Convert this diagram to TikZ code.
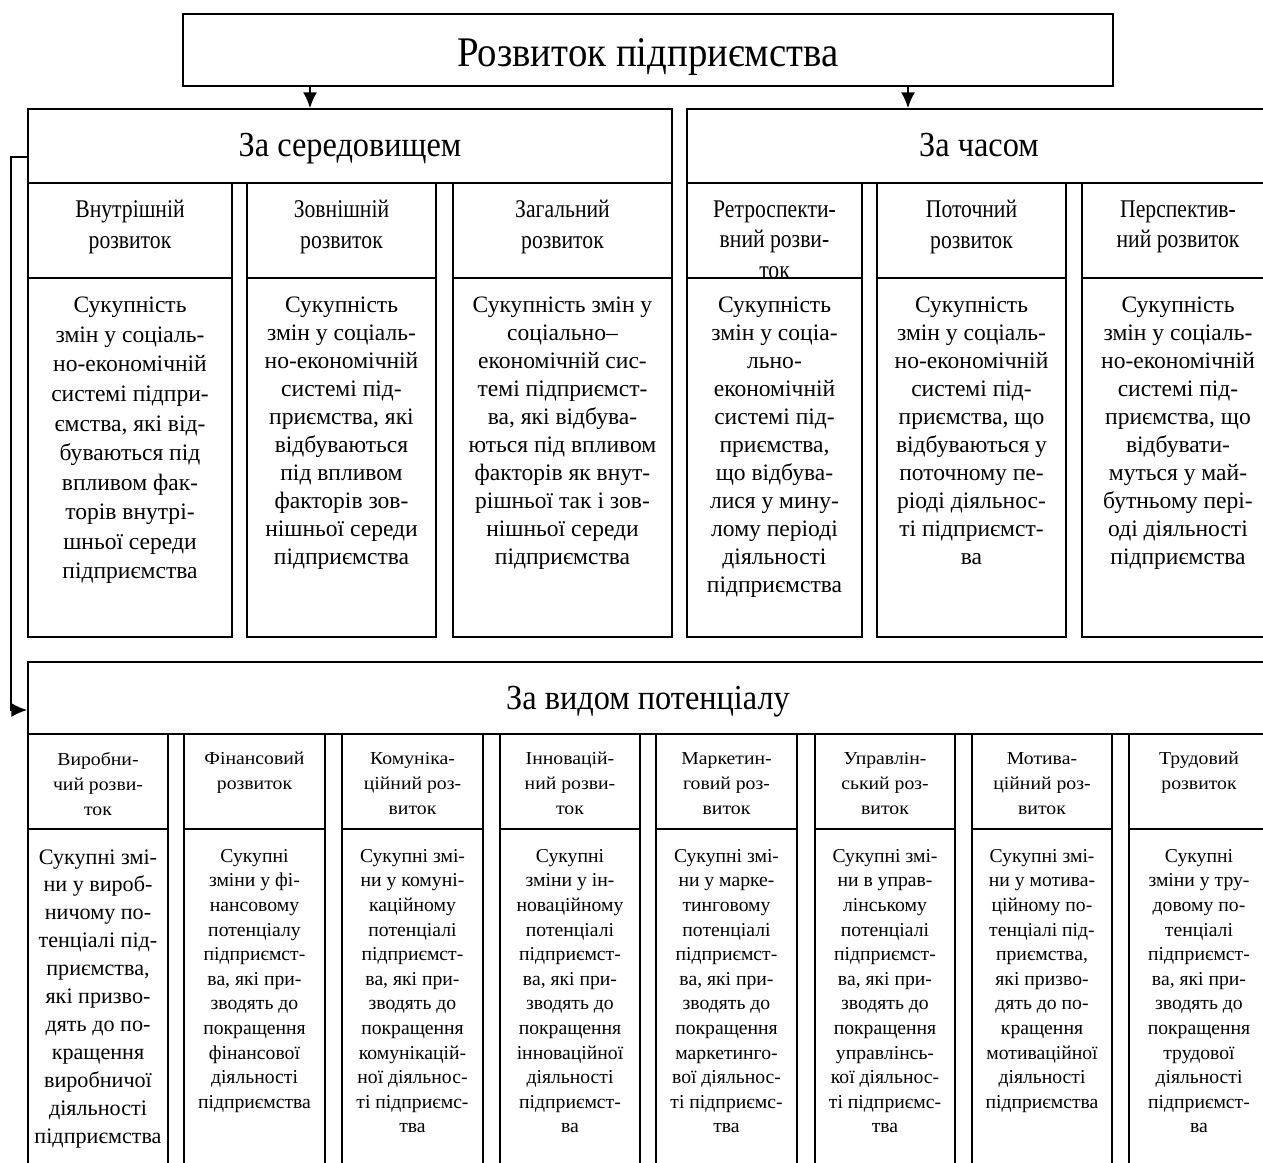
\documentclass[tikz,border=0pt]{standalone}
\usepackage{fontspec}
\setmainfont{Liberation Serif}
\newfontfamily\condfont{Liberation Serif}[FakeStretch=0.92]
\newfontfamily\narrowfont{Liberation Serif}[FakeStretch=0.85]
\newfontfamily\widefont{Liberation Serif}[FakeStretch=1.08]
\usetikzlibrary{arrows.meta,fit}
\tikzset{
	box/.style={draw, line width=1pt, fill=white, inner sep=0pt},
	ttl/.style={anchor=base, inner sep=0pt, font=\condfont\fontsize{24}{28}\selectfont},
	grp/.style={anchor=base, inner sep=0pt, font=\condfont\fontsize{20}{24}\selectfont},
	sub/.style={anchor=north, align=center, inner sep=0pt, font=\narrowfont\fontsize{14.5}{17.5}\selectfont},
	txt/.style={anchor=north, align=center, inner sep=0pt, font=\fontsize{13.4}{15.9}\selectfont},
	subs/.style={anchor=north, align=center, inner sep=0pt, font=\widefont\fontsize{10.4}{14.2}\selectfont},
	txts/.style={anchor=north, align=center, inner sep=0pt, font=\fontsize{11.2}{14}\selectfont},
	arr/.style={line width=1pt, -{Latex[length=9pt,width=8pt]}}
}

\begin{document}
\begin{tikzpicture}[x=0.02cm, y=-0.02cm]
		%%%%% START %%%%%
		\useasboundingbox (0,0) rectangle (1263,1162);
		
		\node[box, fit={(183,14) (1113,86)}] (rozv) {};
		\node[ttl] (rozvT) at (648,67) {Розвиток підприємства};
		
		\node[box, fit={(28,109) (672,183)}] (sered) {};
		\node[grp] (seredT) at (350,157) {За середовищем};
		\node[box, fit={(687,109) (1274,183)}] (chas) {};
		\node[grp] (chasT) at (979,157) {За часом};
		
		\coordinate (pL) at (310,0);
		\coordinate (pR) at (908,0);
		\draw[arr] (rozv.south -| pL) -- (sered.north -| pL);
		\draw[arr] (rozv.south -| pR) -- (chas.north -| pR);
		
		% za seredovyshchem
		\node[box, fit={(28,183) (232,278)}] (vnH) {};
		\node[sub] (vnHt) at (130,200) {Внутрішній\\розвиток};
		\node[box, fit={(28,278) (232,637)}] (vnB) {};
		\node[txt, font=\fontsize{13.4}{16.8}\selectfont] (vnBt) at (130,297) {Сукупність\\змін у соціаль-\\но-економічній\\системі підпри-\\ємства, які від-\\буваються під\\впливом фак-\\торів внутрі-\\шньої середи\\підприємства};
		
		\node[box, fit={(247,183) (436,278)}] (zvH) {};
		\node[sub] (zvHt) at (341.5,200) {Зовнішній\\розвиток};
		\node[box, fit={(247,278) (436,637)}] (zvB) {};
		\node[txt] (zvBt) at (341.5,297) {Сукупність\\змін у соціаль-\\но-економічній\\системі під-\\приємства, які\\відбуваються\\під впливом\\факторів зов-\\нішньої середи\\підприємства};
		
		\node[box, fit={(453,183) (672,278)}] (zgH) {};
		\node[sub] (zgHt) at (562.5,200) {Загальний\\розвиток};
		\node[box, fit={(453,278) (672,637)}] (zgB) {};
		\node[txt] (zgBt) at (562.5,297) {Сукупність змін у\\соціально–\\економічній сис-\\темі підприємст-\\ва, які відбува-\\ються під впливом\\факторів як внут-\\рішньої так і зов-\\нішньої середи\\підприємства};
		
		% za chasom
		\node[box, fit={(687,183) (862,278)}] (rtH) {};
		\node[sub] (rtHt) at (774.5,200) {Ретроспекти-\\вний розви-\\ток};
		\node[box, fit={(687,278) (862,637)}] (rtB) {};
		\node[txt] (rtBt) at (774.5,297) {Сукупність\\змін у соціа-\\льно-\\економічній\\системі під-\\приємства,\\що відбува-\\лися у мину-\\лому періоді\\діяльності\\підприємства};
		
		\node[box, fit={(877,183) (1066,278)}] (ptH) {};
		\node[sub] (ptHt) at (971.5,200) {Поточний\\розвиток};
		\node[box, fit={(877,278) (1066,637)}] (ptB) {};
		\node[txt] (ptBt) at (971.5,297) {Сукупність\\змін у соціаль-\\но-економічній\\системі під-\\приємства, що\\відбуваються у\\поточному пе-\\ріоді діяльнос-\\ті підприємст-\\ва};
		
		\node[box, fit={(1082,183) (1274,278)}] (psH) {};
		\node[sub] (psHt) at (1178,200) {Перспектив-\\ний розвиток};
		\node[box, fit={(1082,278) (1274,637)}] (psB) {};
		\node[txt] (psBt) at (1178,297) {Сукупність\\змін у соціаль-\\но-економічній\\системі під-\\приємства, що\\відбувати-\\муться у май-\\бутньому пері-\\оді діяльності\\підприємства};
		
		% za vydom potentsialu
		\node[box, fit={(28,662) (1268,734)}] (potenc) {};
		\node[grp] (potencT) at (648,709) {За видом потенціалу};
		
		\coordinate (kT) at (11,157);
		\coordinate (kB) at (11,710);
		\draw[arr] (kT -| sered.west) -- (kT) -- (kB) -- (kB -| potenc.west);
		
		\node[box, fit={(28,734) (168,829)}] (vyrH) {};
		\node[subs] (vyrHt) at (98,752) {Виробни-\\чий розви-\\ток};
		\node[box, fit={(28,829) (168,1170)}] (vyrB) {};
		\node[txt, font=\fontsize{12.6}{15.9}\selectfont] (vyrBt) at (98,849) {Сукупні змі-\\ни у вироб-\\ничому по-\\тенціалі під-\\приємства,\\які призво-\\дять до по-\\кращення\\виробничої\\діяльності\\підприємства};
		
		\node[box, fit={(184,734) (325,829)}] (finH) {};
		\node[subs] (finHt) at (254.5,752) {Фінансовий\\розвиток};
		\node[box, fit={(184,829) (325,1170)}] (finB) {};
		\node[txts] (finBt) at (254.5,849) {Сукупні\\зміни у фі-\\нансовому\\потенціалу\\підприємст-\\ва, які при-\\зводять до\\покращення\\фінансової\\діяльності\\підприємства};
		
		\node[box, fit={(342,734) (483,829)}] (komH) {};
		\node[subs] (komHt) at (412.5,752) {Комуніка-\\ційний роз-\\виток};
		\node[box, fit={(342,829) (483,1170)}] (komB) {};
		\node[txts] (komBt) at (412.5,849) {Сукупні змі-\\ни у комуні-\\каційному\\потенціалі\\підприємст-\\ва, які при-\\зводять до\\покращення\\комунікацій-\\ної діяльнос-\\ті підприємс-\\тва};
		
		\node[box, fit={(500,734) (640,829)}] (innH) {};
		\node[subs] (innHt) at (570,752) {Інновацій-\\ний розви-\\ток};
		\node[box, fit={(500,829) (640,1170)}] (innB) {};
		\node[txts] (innBt) at (570,849) {Сукупні\\зміни у ін-\\новаційному\\потенціалі\\підприємст-\\ва, які при-\\зводять до\\покращення\\інноваційної\\діяльності\\підприємст-\\ва};
		
		\node[box, fit={(656,734) (797,829)}] (mrkH) {};
		\node[subs] (mrkHt) at (726.5,752) {Маркетин-\\говий роз-\\виток};
		\node[box, fit={(656,829) (797,1170)}] (mrkB) {};
		\node[txts] (mrkBt) at (726.5,849) {Сукупні змі-\\ни у марке-\\тинговому\\потенціалі\\підприємст-\\ва, які при-\\зводять до\\покращення\\маркетинго-\\вої діяльнос-\\ті підприємс-\\тва};
		
		\node[box, fit={(815,734) (955,829)}] (uprH) {};
		\node[subs] (uprHt) at (885,752) {Управлін-\\ський роз-\\виток};
		\node[box, fit={(815,829) (955,1170)}] (uprB) {};
		\node[txts] (uprBt) at (885,849) {Сукупні змі-\\ни в управ-\\лінському\\потенціалі\\підприємст-\\ва, які при-\\зводять до\\покращення\\управлінсь-\\кої діяльнос-\\ті підприємс-\\тва};
		
		\node[box, fit={(972,734) (1112,829)}] (motH) {};
		\node[subs] (motHt) at (1042,752) {Мотива-\\ційний роз-\\виток};
		\node[box, fit={(972,829) (1112,1170)}] (motB) {};
		\node[txts] (motBt) at (1042,849) {Сукупні змі-\\ни у мотива-\\ційному по-\\тенціалі під-\\приємства,\\які призво-\\дять до по-\\кращення\\мотиваційної\\діяльності\\підприємства};
		
		\node[box, fit={(1129,734) (1269,829)}] (trdH) {};
		\node[subs] (trdHt) at (1199,752) {Трудовий\\розвиток};
		\node[box, fit={(1129,829) (1269,1170)}] (trdB) {};
		\node[txts] (trdBt) at (1199,849) {Сукупні\\зміни у тру-\\довому по-\\тенціалі\\підприємст-\\ва, які при-\\зводять до\\покращення\\трудової\\діяльності\\підприємст-\\ва};
		
		%%%%% END %%%%%
\end{tikzpicture}
\end{document}
